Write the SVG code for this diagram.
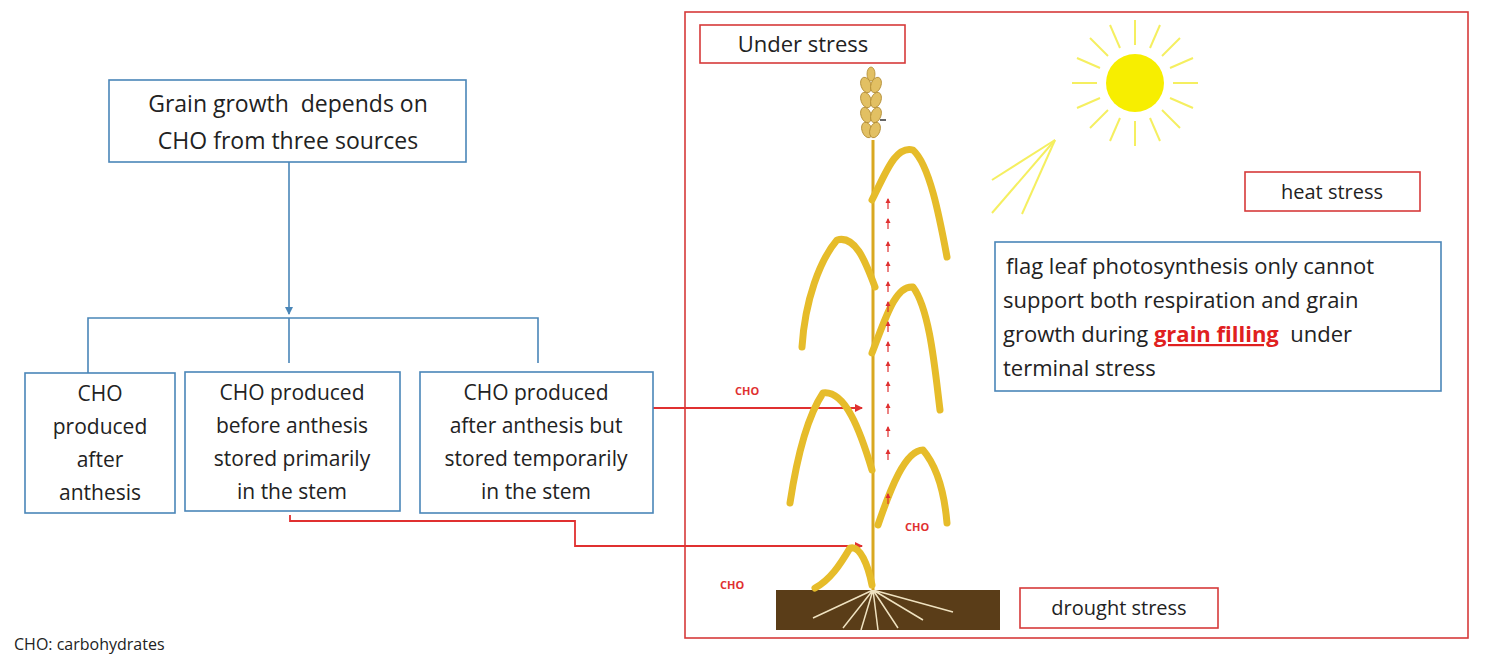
<svg xmlns="http://www.w3.org/2000/svg" width="1485" height="654" viewBox="0 0 1485 654">
<style>
.t{font-family:"Open Sans","Liberation Sans",sans-serif;fill:#222}
.bb{fill:#fff;stroke:#4a86b8;stroke-width:1.6}
.rb{fill:#fff;stroke:#d63a3a;stroke-width:1.6}
.bl{fill:none;stroke:#4a86b8;stroke-width:1.6}
.rl{fill:none;stroke:#e03030;stroke-width:1.8}
.cho{font-family:"Open Sans","Liberation Sans",sans-serif;font-weight:bold;font-size:11px;fill:#e03030}
.leaf{fill:none;stroke:#e6bc2a;stroke-width:7;stroke-linecap:round;stroke-linejoin:round}
.ray{stroke:#f5ef60;stroke-width:2}
</style>
<defs>
<marker id="ar" markerWidth="8" markerHeight="8" refX="7" refY="4" orient="auto" markerUnits="userSpaceOnUse"><path d="M0,0 L8,4 L0,8 z" fill="#e03030"/></marker>
<marker id="ab" markerWidth="8" markerHeight="8" refX="7" refY="4" orient="auto" markerUnits="userSpaceOnUse"><path d="M0,0 L8,4 L0,8 z" fill="#4a86b8"/></marker>
<g id="up"><path d="M0,0 V-10" stroke="#e03030" stroke-width="1.2"/><path d="M-2.5,-6 L0,-11 L2.5,-6 z" fill="#e03030"/></g>
</defs>
<rect width="1485" height="654" fill="#fff"/>

<rect x="685" y="12" width="783" height="626" fill="none" stroke="#d63a3a" stroke-width="1.6"/>

<g id="connectors">
<path class="bl" d="M289,162 V314" marker-end="url(#ab)"/>
<path class="bl" d="M88,373 V318 H538 V363 M289,318 V363"/>
<path class="rl" d="M653,408 H862" marker-end="url(#ar)"/>
<path class="rl" d="M290,515 V521 H575 V546 H862" marker-end="url(#ar)"/>
</g>

<g id="n-top"><rect class="bb" x="109" y="80" width="357" height="82"/>
<text class="t" font-size="23" text-anchor="middle" x="288" y="112" xml:space="preserve">Grain growth  depends on</text>
<text class="t" font-size="23" text-anchor="middle" x="288" y="149">CHO from three sources</text></g>

<g id="n-b1"><rect class="bb" x="25" y="373" width="150" height="140"/>
<text class="t" font-size="21" text-anchor="middle" x="100" y="401">CHO</text>
<text class="t" font-size="21" text-anchor="middle" x="100" y="434">produced</text>
<text class="t" font-size="21" text-anchor="middle" x="100" y="467">after</text>
<text class="t" font-size="21" text-anchor="middle" x="100" y="500">anthesis</text></g>

<g id="n-b2"><rect class="bb" x="185" y="372" width="215" height="139"/>
<text class="t" font-size="21" text-anchor="middle" x="292" y="400">CHO produced</text>
<text class="t" font-size="21" text-anchor="middle" x="292" y="433">before anthesis</text>
<text class="t" font-size="21" text-anchor="middle" x="292" y="466">stored primarily</text>
<text class="t" font-size="21" text-anchor="middle" x="292" y="499">in the stem</text></g>

<g id="n-b3"><rect class="bb" x="420" y="372" width="233" height="141"/>
<text class="t" font-size="21" text-anchor="middle" x="536" y="400">CHO produced</text>
<text class="t" font-size="21" text-anchor="middle" x="536" y="433">after anthesis but</text>
<text class="t" font-size="21" text-anchor="middle" x="536" y="466">stored temporarily</text>
<text class="t" font-size="21" text-anchor="middle" x="536" y="499">in the stem</text></g>

<g id="n-under"><rect class="rb" x="700" y="25" width="205" height="38"/>
<text class="t" font-size="22" text-anchor="middle" x="803" y="52">Under stress</text></g>

<g id="sun">
<circle cx="1135" cy="83" r="29" fill="#f7ee00"/>
<g class="ray">
<line x1="1135" y1="45" x2="1135" y2="20"/><line x1="1135" y1="121" x2="1135" y2="146"/>
<line x1="1097" y1="83" x2="1072" y2="83"/><line x1="1173" y1="83" x2="1198" y2="83"/>
<line x1="1108" y1="56" x2="1090" y2="38"/><line x1="1162" y1="56" x2="1180" y2="38"/>
<line x1="1108" y1="110" x2="1090" y2="128"/><line x1="1162" y1="110" x2="1180" y2="128"/>
<line x1="1120" y1="48" x2="1110" y2="25"/><line x1="1150" y1="48" x2="1160" y2="25"/>
<line x1="1120" y1="118" x2="1110" y2="141"/><line x1="1150" y1="118" x2="1160" y2="141"/>
<line x1="1100" y1="68" x2="1077" y2="58"/><line x1="1170" y1="68" x2="1193" y2="58"/>
<line x1="1100" y1="98" x2="1077" y2="108"/><line x1="1170" y1="98" x2="1193" y2="108"/>
<line x1="1055" y1="140" x2="992" y2="180"/><line x1="1055" y1="140" x2="992" y2="213"/><line x1="1055" y1="140" x2="1022" y2="214"/>
</g></g>

<g id="n-heat"><rect class="rb" x="1245" y="172" width="175" height="39"/>
<text class="t" font-size="20" text-anchor="middle" x="1332" y="199">heat stress</text></g>

<g id="n-flag"><rect class="bb" x="995" y="242" width="446" height="149"/>
<text class="t" font-size="22" x="1006" y="274">flag leaf photosynthesis only cannot</text>
<text class="t" font-size="22" x="1003" y="308">support both respiration and grain</text>
<text class="t" font-size="22" x="1003" y="342" xml:space="preserve">growth during <tspan font-weight="bold" fill="#e02020" text-decoration="underline">grain filling</tspan>  under</text>
<text class="t" font-size="22" x="1003" y="376">terminal stress</text></g>

<g id="n-drought"><rect class="rb" x="1020" y="588" width="198" height="40"/>
<text class="t" font-size="20" text-anchor="middle" x="1119" y="615">drought stress</text></g>

<g id="plant">
<rect x="776" y="590" width="224" height="40" fill="#5a3d18"/>
<path d="M873,590 l-30,38 M873,590 l-12,40 M873,590 l5,40 M873,590 l25,38 M873,590 l50,30 M873,590 l-60,28 M873,590 l80,22" stroke="#efe2c0" stroke-width="1.5" fill="none"/>
<path d="M873,590 V140" stroke="#d9a820" stroke-width="3" fill="none"/>
<g fill="#e2c063" stroke="#b08a30" stroke-width="0.8">
<ellipse cx="866" cy="85" rx="5" ry="8" transform="rotate(-20 866 85)"/><ellipse cx="876" cy="85" rx="5" ry="8" transform="rotate(20 876 85)"/>
<ellipse cx="866" cy="100" rx="5" ry="8" transform="rotate(-20 866 100)"/><ellipse cx="876" cy="100" rx="5" ry="8" transform="rotate(20 876 100)"/>
<ellipse cx="866" cy="115" rx="5" ry="8" transform="rotate(-20 866 115)"/><ellipse cx="876" cy="115" rx="5" ry="8" transform="rotate(20 876 115)"/>
<ellipse cx="867" cy="130" rx="5" ry="8" transform="rotate(-20 867 130)"/><ellipse cx="875" cy="130" rx="5" ry="8" transform="rotate(20 875 130)"/>
<ellipse cx="871" cy="74" rx="4" ry="7"/>
</g>
<path d="M880,120 h6" stroke="#333" stroke-width="1.5"/>
<path class="leaf" d="M872,200 C885,175 895,145 913,150 C930,165 940,220 947,257"/>
<path class="leaf" d="M875,287 C865,260 855,235 837,240 C820,260 805,300 802,347"/>
<path class="leaf" d="M872,353 C885,320 895,285 913,287 C930,310 935,370 940,410"/>
<path class="leaf" d="M872,470 C860,430 845,390 823,393 C805,420 795,470 790,503"/>
<path class="leaf" d="M878,525 C890,490 905,450 923,450 C940,470 945,500 947,523"/>
<path class="leaf" d="M872,585 C868,565 860,545 850,548 C840,565 830,580 815,588"/>
<use href="#up" x="888" y="209"/><use href="#up" x="888" y="229"/><use href="#up" x="888" y="252"/>
<use href="#up" x="888" y="272"/><use href="#up" x="888" y="292"/><use href="#up" x="888" y="312"/>
<use href="#up" x="888" y="332"/><use href="#up" x="888" y="352"/><use href="#up" x="888" y="372"/>
<use href="#up" x="888" y="392"/><use href="#up" x="888" y="414"/><use href="#up" x="888" y="437"/>
<use href="#up" x="888" y="460"/><use href="#up" x="888" y="504"/>
</g>

<text class="cho" x="735" y="395">CHO</text>
<text class="cho" x="905" y="531">CHO</text>
<text class="cho" x="720" y="589">CHO</text>
<text class="t" font-size="16" x="14" y="650">CHO: carbohydrates</text>
</svg>
